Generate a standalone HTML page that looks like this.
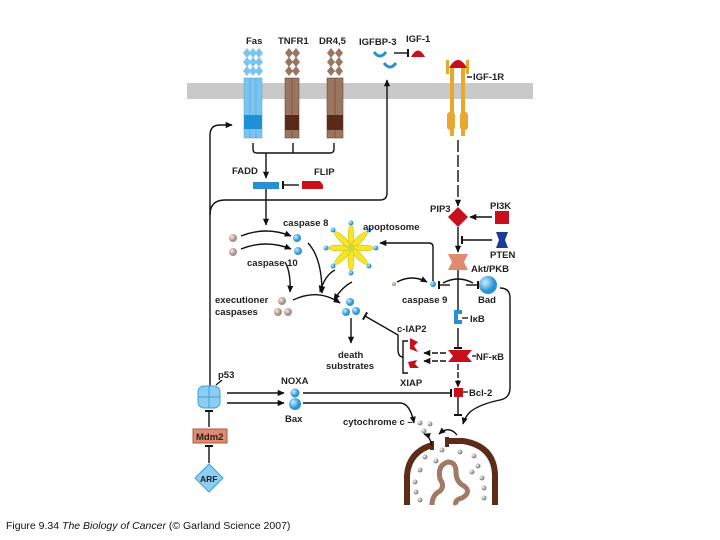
<!DOCTYPE html>
<html><head><style>
body{margin:0;background:#fff;}
svg{display:block;font-family:"Liberation Sans",sans-serif;}
.l{font-size:9.5px;font-weight:bold;fill:#222;}
.k{stroke:#111;stroke-width:1.4;fill:none;}
</style></head><body>
<svg width="720" height="540" viewBox="0 0 720 540" xmlns="http://www.w3.org/2000/svg">
<defs>
<marker id="a" markerWidth="5" markerHeight="5" refX="4.5" refY="2.5" orient="auto"><path d="M0,0.3 L5,2.5 L0,4.7z" fill="#111"/></marker>
<marker id="t" markerWidth="1.5" markerHeight="6" refX="0.75" refY="3" orient="auto"><rect x="0" y="0" width="1.5" height="6" fill="#111"/></marker>
<radialGradient id="b" cx="35%" cy="35%"><stop offset="0" stop-color="#cdeeff"/><stop offset="1" stop-color="#2a93d5"/></radialGradient>
<radialGradient id="g" cx="35%" cy="35%"><stop offset="0" stop-color="#fff"/><stop offset="1" stop-color="#8a8a8a"/></radialGradient>
<radialGradient id="e" cx="35%" cy="35%"><stop offset="0" stop-color="#f4ece6"/><stop offset="1" stop-color="#a89080"/></radialGradient>
</defs>
<rect x="187" y="83" width="346" height="16" fill="#c8c9c8"/>
<!-- Fas -->
<g>
<rect x="244" y="78" width="6" height="60" fill="#7cc4f0" stroke="#4aa6e0" stroke-width="0.5"/>
<rect x="250" y="78" width="6" height="60" fill="#7cc4f0" stroke="#4aa6e0" stroke-width="0.5"/>
<rect x="256" y="78" width="6" height="60" fill="#7cc4f0" stroke="#4aa6e0" stroke-width="0.5"/>
<rect x="244" y="115" width="18" height="14" fill="#1f8fd8"/>
<g fill="#7cc4f0">
<path d="M247,48 l4,5 -4,5 -4,-5z M253,48 l4,5 -4,5 -4,-5z M259,48 l4,5 -4,5 -4,-5z M247,57 l4,5 -4,5 -4,-5z M253,57 l4,5 -4,5 -4,-5z M259,57 l4,5 -4,5 -4,-5z M247,66 l4,5 -4,5 -4,-5z M253,66 l4,5 -4,5 -4,-5z M259,66 l4,5 -4,5 -4,-5z"/>
</g></g>
<!-- TNFR1 -->
<g>
<rect x="285" y="78" width="14" height="60" fill="#9a7560" stroke="#6b4c3a" stroke-width="0.6"/>
<line x1="292" y1="78" x2="292" y2="138" stroke="#6b4c3a" stroke-width="0.6"/>
<rect x="285" y="115" width="14" height="15" fill="#5a2a18"/>
<path d="M289,48 l4,5 -4,5 -4,-5z M296,48 l4,5 -4,5 -4,-5z M289,57 l4,5 -4,5 -4,-5z M296,57 l4,5 -4,5 -4,-5z M289,66 l4,5 -4,5 -4,-5z M296,66 l4,5 -4,5 -4,-5z" fill="#9a7560"/>
</g>
<!-- DR4,5 -->
<g>
<rect x="327" y="78" width="16" height="60" fill="#9a7560" stroke="#6b4c3a" stroke-width="0.6"/>
<line x1="335" y1="78" x2="335" y2="138" stroke="#6b4c3a" stroke-width="0.6"/>
<rect x="327" y="115" width="16" height="15" fill="#5a2a18"/>
<path d="M331,48 l4,5 -4,5 -4,-5z M339,48 l4,5 -4,5 -4,-5z M331,57 l4,5 -4,5 -4,-5z M339,57 l4,5 -4,5 -4,-5z M331,66 l4,5 -4,5 -4,-5z M339,66 l4,5 -4,5 -4,-5z" fill="#9a7560"/>
</g>
<text class="l" x="246" y="44">Fas</text>
<text class="l" x="278" y="44">TNFR1</text>
<text class="l" x="319" y="44">DR4,5</text>
<text class="l" x="359" y="45">IGFBP-3</text>
<text class="l" x="406" y="42">IGF-1</text>
<path d="M374,52 q6,8 12,0" stroke="#2a8fd0" stroke-width="3" fill="none"/>
<path d="M384,63 q6,8 12,0" stroke="#2a8fd0" stroke-width="3" fill="none"/>
<line x1="394" y1="53" x2="408" y2="53" class="k" marker-end="url(#t)"/>
<path d="M411,57 q7,-13 14,0 z" fill="#c8101c"/>
<!-- IGF-1R -->
<g fill="#e8a830">
<rect x="450" y="66" width="4" height="70"/><rect x="461" y="66" width="4" height="70"/>
<rect x="447" y="112" width="8" height="18" rx="3"/><rect x="460" y="112" width="8" height="18" rx="3"/>
<rect x="446" y="60" width="3" height="14"/><rect x="466" y="60" width="3" height="14"/>
</g>
<path d="M449,68 q9,-16 18,0z" fill="#c8101c"/>
<line x1="467" y1="77" x2="472" y2="77" stroke="#111" stroke-width="1.4"/>
<text class="l" x="473" y="80">IGF-1R</text>
<!-- bracket -->
<path d="M253,143 v6 q0,4 4,4 h73 q4,0 4,-4 v-6 M293,143 v10" class="k"/>
<line x1="266" y1="153" x2="266" y2="178" class="k" marker-end="url(#a)"/>
<text class="l" x="232" y="174">FADD</text>
<rect x="253" y="182" width="26" height="7" fill="#2a8fd0"/>
<line x1="299" y1="185" x2="283" y2="185" class="k" marker-end="url(#t)"/>
<path d="M302,181 h18 l3,4 v4 h-21z" fill="#c8101c"/>
<text class="l" x="314" y="175">FLIP</text>
<line x1="266" y1="189" x2="266" y2="225" class="k" marker-end="url(#a)"/>
<path d="M210,392 V135 q0,-10 10,-10 H232" class="k" marker-end="url(#a)"/>
<path d="M210,215 q0,-15 15,-15 H380 q7,0 7,-7 V80" class="k" marker-end="url(#a)"/>
<!-- right column -->
<line x1="458" y1="140" x2="458" y2="206" class="k" stroke-dasharray="12,3" marker-end="url(#a)"/>
<text class="l" x="430" y="212">PIP3</text>
<path d="M458,207 l10,10 -10,10 -10,-10z" fill="#c8101c"/>
<text class="l" x="490" y="209">PI3K</text>
<rect x="495" y="211" width="14" height="13" fill="#c8101c"/>
<line x1="492" y1="217" x2="470" y2="217" class="k" marker-end="url(#a)"/>
<line x1="492" y1="240" x2="462" y2="240" class="k" marker-end="url(#t)"/>
<path d="M496,232 h12 l-3,8 3,8 h-12 l3,-8z" fill="#1c3c9a"/>
<text class="l" x="490" y="258">PTEN</text>
<line x1="458" y1="227" x2="458" y2="252" class="k" marker-end="url(#a)"/>
<path d="M448,254 h20 l-4,8 4,8 h-20 l4,-8z" fill="#e08a70"/>
<text class="l" x="471" y="272">Akt/PKB</text>
<line x1="458" y1="270" x2="458" y2="313" class="k" marker-end="url(#t)"/>
<path d="M443,283 q15,-8 30,0" class="k"/>
<line x1="450" y1="285" x2="439" y2="285" class="k" marker-end="url(#t)"/>
<line x1="466" y1="285" x2="478" y2="285" class="k" marker-end="url(#t)"/>
<circle cx="488" cy="285" r="9" fill="url(#b)"/>
<text class="l" x="478" y="303">Bad</text>
<circle cx="433" cy="284" r="3" fill="url(#b)"/>
<circle cx="394" cy="284" r="2" fill="url(#e)"/>
<path d="M397,282 q15,-8 30,0" class="k" marker-end="url(#a)"/>
<text class="l" x="402" y="303">caspase 9</text>
<path d="M433,281 V247 q0,-4 -4,-4 H380" class="k" marker-end="url(#a)"/>
<path d="M454,310 h8 v4 h-4 v6 h4 v4 h-8z" fill="#2a8fd0"/>
<line x1="462" y1="318" x2="468" y2="318" stroke="#111" stroke-width="1.3"/>
<text class="l" x="470" y="322">IκB</text>
<line x1="458" y1="328" x2="458" y2="348" class="k" marker-end="url(#t)"/>
<path d="M448,350 h24 l-5,6 5,6 h-24 l5,-6z" fill="#c8101c"/>
<line x1="472" y1="356" x2="476" y2="356" stroke="#111" stroke-width="1.3"/>
<text class="l" x="476" y="360">NF-κB</text>
<line x1="446" y1="353" x2="424" y2="353" class="k" stroke-dasharray="6,2" marker-end="url(#a)"/>
<line x1="446" y1="361" x2="424" y2="361" class="k" stroke-dasharray="6,2" marker-end="url(#a)"/>
<path d="M410,338 l8,4 -4,4 4,6 -8,-3z" fill="#c8101c"/>
<path d="M408,362 l9,-2 -2,4 4,4 -9,0z" fill="#c8101c"/>
<text class="l" x="397" y="332">c-IAP2</text>
<text class="l" x="400" y="386">XIAP</text>
<path d="M408,341 h-5 v32 h5 M403,357 q-5,0 -5,-8 V335 L365,316" class="k" marker-end="url(#t)"/>
<line x1="458" y1="364" x2="458" y2="387" class="k" stroke-dasharray="6,2" marker-end="url(#a)"/>
<rect x="454" y="388" width="9" height="9" fill="#c8101c"/>
<line x1="463" y1="392" x2="468" y2="392" stroke="#111" stroke-width="1.3"/>
<text class="l" x="469" y="396">Bcl-2</text>
<line x1="458" y1="397" x2="458" y2="415" class="k" marker-end="url(#t)"/>
<path d="M500,288 q10,0 10,10 V388 q0,10 -10,12 q-20,4 -30,12 q-5,5 -7,12" class="k" marker-end="url(#a)"/>
<!-- middle -->
<text class="l" x="283" y="226">caspase 8</text>
<text class="l" x="247" y="266">caspase 10</text>
<circle cx="233" cy="238" r="4" fill="url(#e)"/><circle cx="233" cy="252" r="4" fill="url(#e)"/>
<path d="M241,236 q25,-10 50,0" class="k" marker-end="url(#a)"/>
<path d="M241,249 q25,-10 50,0" class="k" marker-end="url(#a)"/>
<circle cx="297" cy="238" r="4" fill="url(#b)"/><circle cx="298" cy="251" r="4" fill="url(#b)"/>
<path d="M285,262 q6,10 5,30" class="k" marker-end="url(#a)"/>
<path d="M308,243 q14,15 14,50" class="k" marker-end="url(#a)"/>
<path d="M335,270 q-10,5 -15,22" class="k" marker-end="url(#a)"/>
<g transform="translate(351,248)">
<g fill="#f5e62a" stroke="#c9b000" stroke-width="0.5">
<ellipse rx="3" ry="12" transform="rotate(0) translate(0,-11)"/>
<ellipse rx="3" ry="12" transform="rotate(45) translate(0,-11)"/>
<ellipse rx="3" ry="12" transform="rotate(90) translate(0,-11)"/>
<ellipse rx="3" ry="12" transform="rotate(135) translate(0,-11)"/>
<ellipse rx="3" ry="12" transform="rotate(180) translate(0,-11)"/>
<ellipse rx="3" ry="12" transform="rotate(225) translate(0,-11)"/>
<ellipse rx="3" ry="12" transform="rotate(270) translate(0,-11)"/>
<ellipse rx="3" ry="12" transform="rotate(315) translate(0,-11)"/>
</g>
<circle r="3.5" fill="#c9d840"/>
<g fill="url(#b)">
<circle cx="0" cy="-25" r="2.5"/><circle cx="18" cy="-18" r="2.5"/><circle cx="25" cy="0" r="2.5"/><circle cx="18" cy="18" r="2.5"/><circle cx="0" cy="25" r="2.5"/><circle cx="-18" cy="18" r="2.5"/><circle cx="-25" cy="0" r="2.5"/><circle cx="-18" cy="-18" r="2.5"/>
</g></g>
<text class="l" x="363" y="230">apoptosome</text>
<path d="M352,282 q-10,5 -18,18" class="k" marker-end="url(#a)"/>
<text class="l" x="215" y="303">executioner</text>
<text class="l" x="215" y="315">caspases</text>
<circle cx="282" cy="301" r="4" fill="url(#e)"/><circle cx="278" cy="312" r="4" fill="url(#e)"/><circle cx="288" cy="312" r="4" fill="url(#e)"/>
<path d="M293,300 q25,-12 47,3" class="k" marker-end="url(#a)"/>
<circle cx="350" cy="302" r="4" fill="url(#b)"/><circle cx="346" cy="312" r="4" fill="url(#b)"/><circle cx="356" cy="311" r="4" fill="url(#b)"/>
<line x1="351" y1="318" x2="351" y2="343" class="k" marker-end="url(#a)"/>
<text class="l" x="338" y="358">death</text>
<text class="l" x="326" y="369">substrates</text>
<text class="l" x="218" y="378">p53</text>
<line x1="216" y1="385" x2="222" y2="380" stroke="#111" stroke-width="1.3"/>
<rect x="198" y="386" width="22" height="22" rx="6" fill="#8ccdf2" stroke="#3fa0dc"/>
<line x1="209" y1="386" x2="209" y2="408" stroke="#3fa0dc"/><line x1="198" y1="397" x2="220" y2="397" stroke="#3fa0dc"/>
<line x1="227" y1="393" x2="284" y2="393" class="k" marker-end="url(#a)"/>
<line x1="227" y1="403" x2="284" y2="403" class="k" marker-end="url(#a)"/>
<text class="l" x="281" y="384">NOXA</text>
<circle cx="295" cy="393" r="4.5" fill="url(#b)"/><circle cx="295" cy="404" r="6" fill="url(#b)"/>
<text class="l" x="285" y="422">Bax</text>
<line x1="303" y1="393" x2="451" y2="393" class="k" marker-end="url(#t)"/>
<path d="M303,403 H400 q10,0 14,20" class="k" marker-end="url(#a)"/>
<line x1="209" y1="427" x2="209" y2="411" class="k" marker-end="url(#t)"/>
<rect x="193" y="429" width="34" height="14" fill="#e08a70" stroke="#a85a48"/>
<text class="l" x="196" y="440">Mdm2</text>
<line x1="209" y1="463" x2="209" y2="446" class="k" marker-end="url(#t)"/>
<path d="M209,464 l14,14 -14,14 -14,-14z" fill="#8ccdf2" stroke="#3fa0dc"/>
<text class="l" x="200" y="482" style="font-size:8.5px">ARF</text>
<!-- mitochondrion -->
<text class="l" x="343" y="425">cytochrome c –</text>
<g fill="url(#g)">
<circle cx="420" cy="423" r="2.5"/><circle cx="430" cy="424" r="2.5"/><circle cx="424" cy="431" r="2.5"/><circle cx="442" cy="450" r="2.5"/>
<circle cx="425" cy="457" r="2.5"/><circle cx="436" cy="461" r="2.5"/><circle cx="420" cy="470" r="2.5"/><circle cx="415" cy="482" r="2.5"/><circle cx="416" cy="492" r="2.5"/><circle cx="420" cy="500" r="2.5"/>
<circle cx="460" cy="452" r="2.5"/><circle cx="474" cy="456" r="2.5"/><circle cx="478" cy="466" r="2.5"/><circle cx="482" cy="478" r="2.5"/><circle cx="484" cy="488" r="2.5"/><circle cx="484" cy="498" r="2.5"/><circle cx="472" cy="472" r="2.5"/>
</g>
<path d="M432,445 Q409,452 407,475 V505" stroke="#5c2c18" stroke-width="6" fill="none"/>
<path d="M447,441 h16 Q494,446 495,475 V505" stroke="#5c2c18" stroke-width="6" fill="none"/>
<path d="M432,441 v9 M447,437 v10" stroke="#5c2c18" stroke-width="4"/>
<path d="M432,505 q0,-10 8,-14 q5,-5 0,-12 q-3,-14 8,-17 q8,0 8,10 q0,10 8,14 q8,6 -2,12 q-8,2 -6,7" stroke="#a07a66" stroke-width="5" fill="none"/>
<path d="M457,435 q-8,-10 -18,-1" class="k" marker-end="url(#a)"/>
<path d="M432,446 q-2,-10 -8,-12" class="k" marker-end="url(#a)"/>
<text x="6" y="529" style="font-size:10.5px;fill:#111">Figure 9.34  <tspan font-style="italic">The Biology of Cancer</tspan> (© Garland Science 2007)</text>
</svg>
</body></html>
